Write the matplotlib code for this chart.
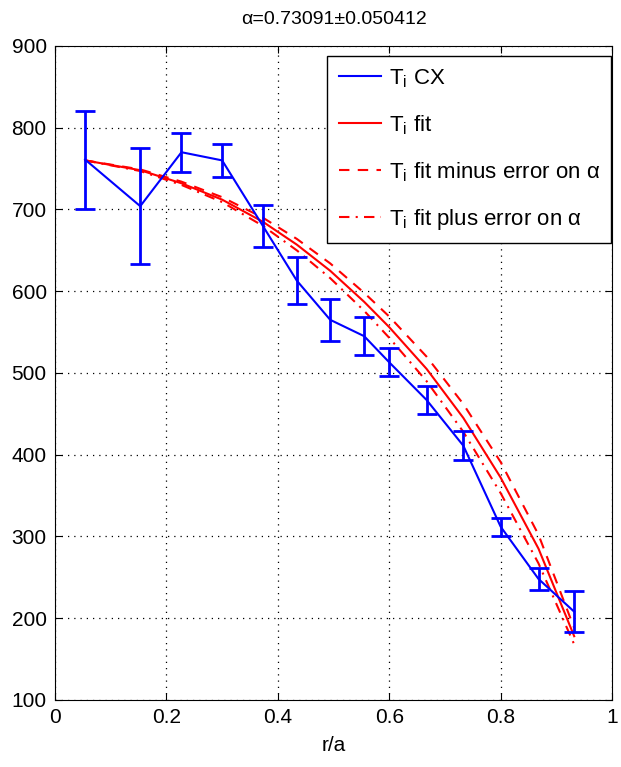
import numpy as np
import matplotlib
matplotlib.use("Agg")
import matplotlib.pyplot as plt
from matplotlib.lines import Line2D

plt.rcParams['font.family'] = ['Liberation Sans', 'DejaVu Sans']

# measured CX ion temperature profile
r_cx = [0.054, 0.153, 0.227, 0.300, 0.373, 0.434, 0.494, 0.555, 0.600, 0.667, 0.733, 0.800, 0.868, 0.932]
ti_cx = [761, 704, 770, 760, 680, 613, 565, 545, 513, 467, 411, 312, 248, 208]
ti_err = [60, 71, 24, 20, 26, 29, 26, 23, 17, 17, 18, 11, 14, 25]

# fitted profiles
r_fit = [0.054, 0.153, 0.227, 0.300, 0.373, 0.434, 0.494, 0.555, 0.600, 0.667, 0.733, 0.800, 0.868, 0.932]
ti_fit = [760, 748, 732, 712, 685, 657, 625, 587, 556, 505, 445, 372, 285, 178]
ti_fit_minus = [760, 749, 734, 715, 690, 664, 634, 598, 569, 520, 462, 391, 302, 188]
ti_fit_plus = [760, 747, 730, 709, 680, 650, 616, 576, 543, 490, 428, 353, 267, 168]

alpha_val = 0.73091
alpha_err = 0.050412

fig = plt.figure(figsize=(6.21, 7.67), dpi=100)
ax = fig.add_axes([0.0886, 0.0874, 0.897, 0.8527])

ax.errorbar(r_cx, ti_cx, yerr=ti_err, color='blue', lw=1.5, elinewidth=2,
            capsize=7, capthick=2, zorder=3)
l1, = ax.plot(r_fit, ti_fit, color='red', lw=1.5)
l2, = ax.plot(r_fit, ti_fit_minus, color='red', lw=1.5, ls=(0, (5, 4)))
l3, = ax.plot(r_fit, ti_fit_plus, color='red', lw=1.5, ls=(0, (5, 3, 1, 3)))

ax.set_xlim(0, 1)
ax.set_ylim(100, 900)
ax.set_xticks([0, 0.2, 0.4, 0.6, 0.8, 1])
ax.set_xticklabels(['0', '0.2', '0.4', '0.6', '0.8', '1'])
ax.set_yticks(range(100, 901, 100))
ax.tick_params(direction='in', top=True, right=True, labelsize=15, length=5, pad=6)
ax.grid(True, color='black', ls=(0, (1, 4)), lw=0.9)
ax.set_xlabel('r/a', fontsize=15, labelpad=6)
ax.set_title('α=%.5f±%.6f' % (alpha_val, alpha_err), fontsize=14, pad=16)

handles = [Line2D([], [], color='blue', lw=1.5), l1, l2, l3]
labels = [r'T$_\mathregular{i}$ CX', r'T$_\mathregular{i}$ fit',
          r'T$_\mathregular{i}$ fit minus error on α', r'T$_\mathregular{i}$ fit plus error on α']
leg = ax.legend(handles, labels, loc='upper right', bbox_to_anchor=(611 / 621, 1 - 56 / 767),
                bbox_transform=fig.transFigure, fontsize=16, fancybox=False, framealpha=1,
                edgecolor='black', borderpad=0.5, labelspacing=1.05,
                handlelength=1.9, handletextpad=0.35, borderaxespad=0)
leg.get_frame().set_linewidth(1.0)

fig.savefig('out.png', dpi=100)
